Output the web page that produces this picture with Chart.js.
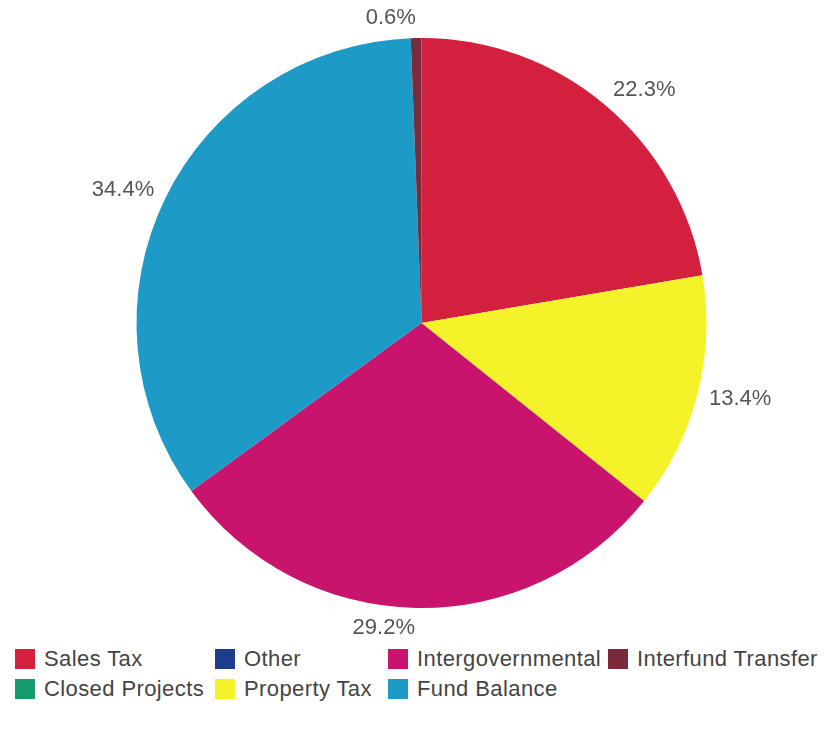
<!DOCTYPE html>
<html>
<head>
<meta charset="utf-8">
<script src="https://cdn.jsdelivr.net/npm/chart.js@4"></script>
<style>
  html, body { margin: 0; padding: 0; background: #fff; }
  #wrap { position: relative; width: 827px; height: 733px; }
  #pie { position: absolute; left: 0; top: 0; }
  .leg { position: absolute; font: 22px "Liberation Sans", Arial, sans-serif; letter-spacing: 0.4px; color: #444; white-space: nowrap; line-height: 22px; }
  .leg i { display: inline-block; width: 20px; height: 20px; vertical-align: -3px; margin-right: 9px; }
</style>
</head>
<body>
<div id="wrap">
  <canvas id="pie" width="827" height="640"></canvas>
</div>
<script>
// Slice data, in drawing order (clockwise from 12 o'clock)
const categories = ['Sales Tax', 'Closed Projects', 'Other', 'Property Tax', 'Intergovernmental', 'Fund Balance', 'Interfund Transfer'];
const shares = [22.3, 0, 0, 13.4, 29.2, 34.4, 0.6];
const colors = ['#d4203f', '#179a6c', '#1c3d8c', '#f4f32a', '#c8146c', '#1e9ac6', '#7a2b3b'];

// legend shows items in a 4 x 2 grid, filled column by column
const legendCols = [15, 215, 388, 608];
const legendRows = [648, 678];

const labelPlugin = {
  id: 'pctLabels',
  afterDatasetsDraw(chart) {
    const ctx = chart.ctx;
    const meta = chart.getDatasetMeta(0);
    ctx.save();
    ctx.font = '22px "Liberation Sans", Arial, sans-serif';
    ctx.fillStyle = '#555';
    ctx.textBaseline = 'middle';
    meta.data.forEach((arc, i) => {
      if (!shares[i]) return;
      const mid = (arc.startAngle + arc.endAngle) / 2;
      const r = arc.outerRadius + 12;
      const x = arc.x + Math.cos(mid) * r;
      const y = arc.y + Math.sin(mid) * r;
      ctx.textAlign = Math.cos(mid) >= 0 ? 'left' : 'right';
      const yOff = Math.sin(mid) * 8;
      ctx.fillText(shares[i].toFixed(1) + '%', x, y + yOff);
    });
    ctx.restore();
  }
};

new Chart(document.getElementById('pie'), {
  type: 'pie',
  data: {
    labels: categories,
    datasets: [{ data: shares, backgroundColor: colors, borderWidth: 0 }]
  },
  options: {
    responsive: false,
    animation: false,
    layout: { padding: { left: 136, right: 120, top: 38, bottom: 32 } },
    plugins: { legend: { display: false }, tooltip: { enabled: false } }
  },
  plugins: [labelPlugin]
});

// HTML legend
const wrap = document.getElementById('wrap');
categories.forEach((name, i) => {
  const col = Math.floor(i / 2), row = i % 2;
  const d = document.createElement('div');
  d.className = 'leg';
  d.style.left = legendCols[col] + 'px';
  d.style.top = legendRows[row] + 'px';
  d.innerHTML = `<i style="background:${colors[i]}"></i>${name}`;
  wrap.appendChild(d);
});
</script>
</body>
</html>
